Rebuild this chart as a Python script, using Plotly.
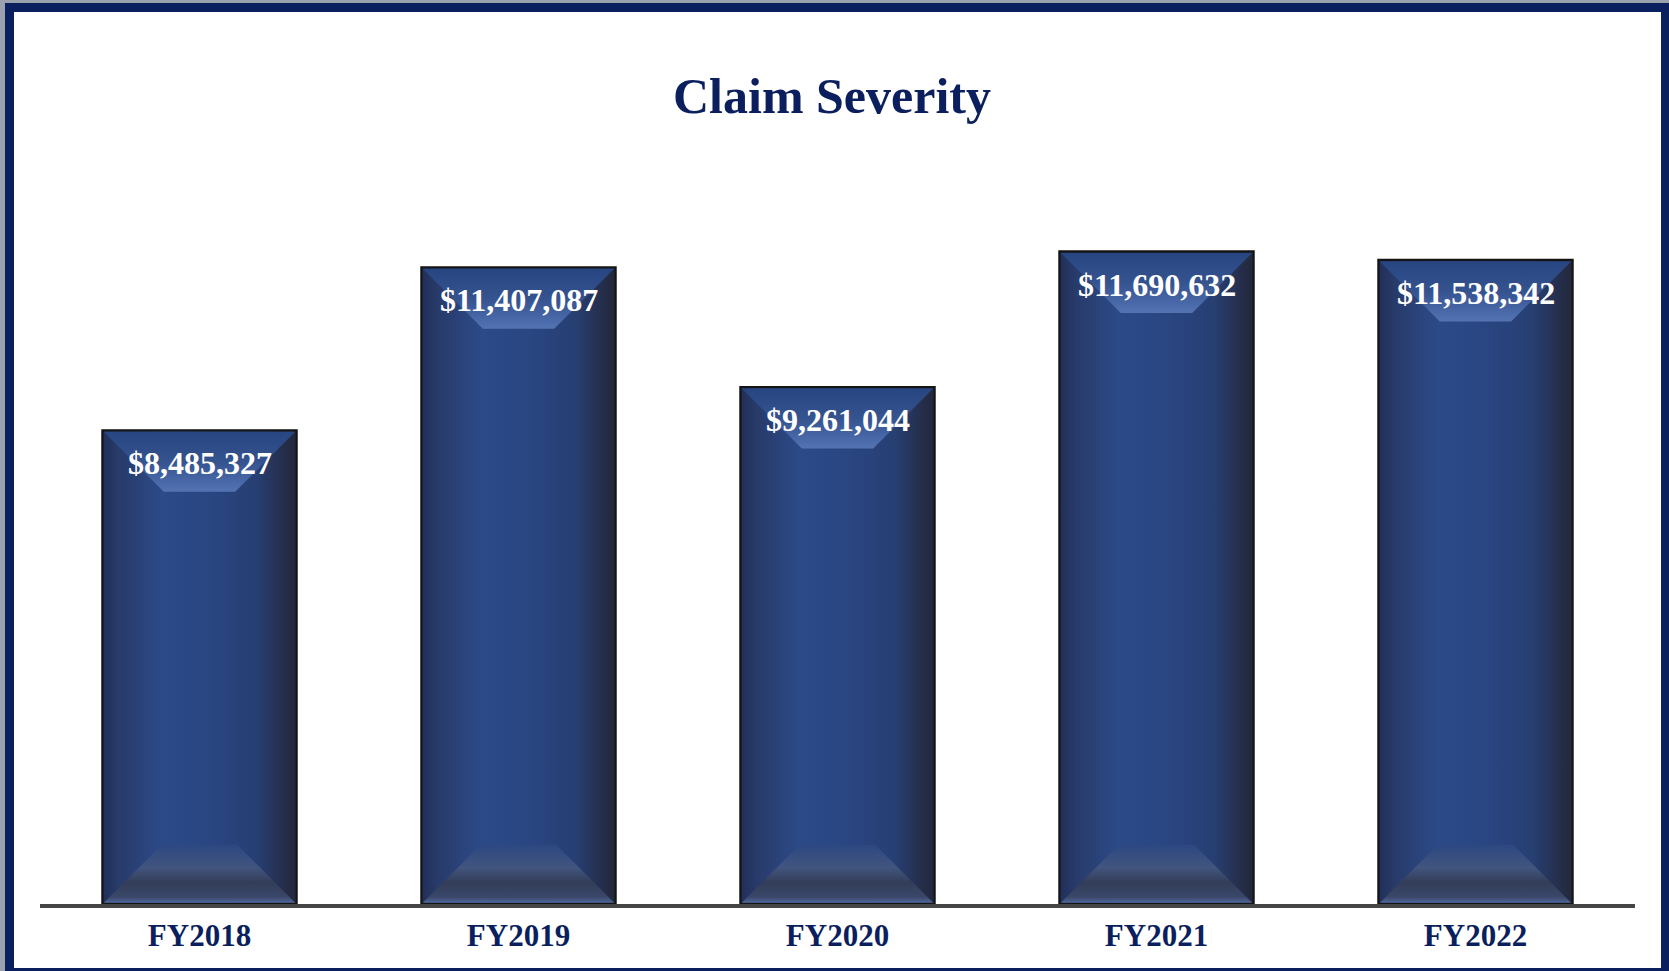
import plotly.graph_objects as go

categories = ["FY2018", "FY2019", "FY2020", "FY2021", "FY2022"]
values = [8485327, 11407087, 9261044, 11690632, 11538342]
labels = ["$8,485,327", "$11,407,087", "$9,261,044", "$11,690,632", "$11,538,342"]

W, H = 1669, 971
L, R = 40, 34           # plot area x: 40..1635
BASE_PX, TOP_PX = 904, 154
PX_PER_X = (W - L - R) / 5.0
YMAX = 13.44e6
PX_PER_Y = (BASE_PX - TOP_PX) / YMAX

NAVY = "#0b1f5e"
BAR_W = 0.608
hw = BAR_W / 2
ins_x = 1.3 / PX_PER_X
ins_y = 1.3 / PX_PER_Y

fig = go.Figure()

xs = list(range(len(categories)))
fig.add_trace(go.Bar(
    x=xs, y=values, width=BAR_W,
    marker=dict(color="#284580", line=dict(color="#141414", width=2.5)),
    hoverinfo="skip", showlegend=False,
))

body_scale = [[0, "#22305a"], [0.08, "#283b6a"], [0.3, "#2c4a88"], [0.55, "#294683"],
              [0.8, "#273f72"], [0.93, "#252f4e"], [1, "#23283a"]]
top_scale = [[0, "#5473b1"], [0.12, "#4c6bab"], [0.5, "#35538f"], [1, "#274580"]]
bot_scale = [[0, "#4d6597"], [0.1, "#3a4769"], [0.35, "#333d58"], [0.6, "#42557e"], [1, "#2c4882"]]

tb_px = 60
bb_px = 58
for i, v in zip(xs, values):
    x0, x1 = i - hw + ins_x, i + hw - ins_x
    y0, y1 = ins_y, v - ins_y
    # body gradient
    fig.add_trace(go.Scatter(
        x=[x0, x1, x1, x0, x0], y=[y0, y0, y1, y1, y0], mode="lines",
        line=dict(width=0), fill="toself",
        fillgradient=dict(type="horizontal", colorscale=body_scale, start=x0, stop=x1),
        hoverinfo="skip", showlegend=False))
    # top bevel
    dx = tb_px / PX_PER_X
    dy = tb_px / PX_PER_Y
    fig.add_trace(go.Scatter(
        x=[x0, x1, x1 - dx, x0 + dx, x0], y=[y1, y1, y1 - dy, y1 - dy, y1], mode="lines",
        line=dict(width=0), fill="toself",
        fillgradient=dict(type="vertical", colorscale=top_scale, start=y1 - dy, stop=y1),
        hoverinfo="skip", showlegend=False))
    # bottom bevel
    dx = bb_px / PX_PER_X
    dy = bb_px / PX_PER_Y
    fig.add_trace(go.Scatter(
        x=[x0, x1, x1 - dx, x0 + dx, x0], y=[y0, y0, y0 + dy, y0 + dy, y0], mode="lines",
        line=dict(width=0), fill="toself",
        fillgradient=dict(type="vertical", colorscale=bot_scale, start=y0, stop=y0 + dy),
        hoverinfo="skip", showlegend=False))

for i, v, t in zip(xs, values, labels):
    fig.add_annotation(x=i, y=v, text=t, showarrow=False,
                       yanchor="top", yshift=-13,
                       font=dict(family="Liberation Serif", size=32, color="white",
                                 weight="bold"))

def xp(px):
    return (px - L) / (W - L - R)

def yp(py):
    return (BASE_PX - py) / (BASE_PX - TOP_PX)

fig.add_shape(type="rect", xref="paper", yref="paper", layer="below",
              x0=xp(5), x1=xp(1680), y0=yp(985), y1=yp(3),
              fillcolor="#0a205e", line=dict(width=0))
fig.add_shape(type="rect", xref="paper", yref="paper", layer="below",
              x0=xp(14), x1=xp(1661), y0=yp(968), y1=yp(12),
              fillcolor="white", line=dict(width=0))

fig.update_layout(
    width=W, height=H,
    margin=dict(l=L, r=R, t=TOP_PX, b=H - BASE_PX),
    paper_bgcolor="#9aa2ae",
    plot_bgcolor="rgba(0,0,0,0)",
    title=dict(text="Claim Severity", x=832 / W, xref="container", xanchor="center",
               y=1 - 95 / H, yref="container", yanchor="middle",
               font=dict(family="Liberation Serif", size=50, color=NAVY, weight="bold")),
    xaxis=dict(range=[-0.5, 4.5], tickvals=xs, ticktext=categories, showgrid=False,
               zeroline=False, showline=True, linecolor="#454545", linewidth=3.5,
               ticks="", ticklabelstandoff=1,
               tickfont=dict(family="Liberation Serif", size=31, color=NAVY, weight="bold")),
    yaxis=dict(range=[0, YMAX], visible=False, showgrid=False, zeroline=False),
    showlegend=False,
)

fig.write_html("out.html", config={"displayModeBar": False},
               post_script="document.body.style.margin='0';document.body.style.overflow='hidden';")
